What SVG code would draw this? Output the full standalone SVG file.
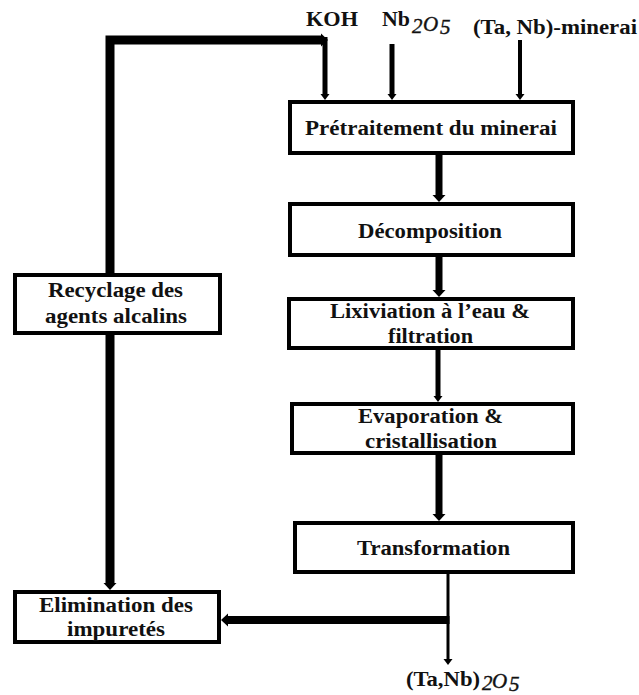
<svg xmlns="http://www.w3.org/2000/svg" width="639" height="695" viewBox="0 0 639 695">
<style>
.box{fill:#fff;stroke:#000;stroke-width:4}
.t{font-family:"Liberation Serif","Times New Roman",serif;font-weight:bold;font-size:20px;fill:#111;text-anchor:middle}
.tl{font-family:"Liberation Serif","Times New Roman",serif;font-weight:bold;font-size:20px;fill:#111}
.m{font-family:"Liberation Serif","Times New Roman",serif;font-style:italic;font-size:21px;fill:#111;stroke:#111;stroke-width:0.4}
.c{fill:none;stroke:#000;stroke-linejoin:miter}
</style>
<defs>
<marker id="ah" markerUnits="userSpaceOnUse" markerWidth="8" markerHeight="14" refX="0" refY="7" orient="auto"><path d="M0,0.5 L7,7 L0,13.5 Z" fill="#000"/></marker>
<marker id="ahs" markerUnits="userSpaceOnUse" markerWidth="7" markerHeight="10" refX="0" refY="5" orient="auto"><path d="M0,0.5 L6,5 L0,9.5 Z" fill="#000"/></marker>
</defs>
<g id="connectors">
<path class="c" d="M110,275 V40 H321" stroke-width="9" marker-end="url(#ah)"/>
<path class="c" d="M325,37 V94" stroke-width="5" marker-end="url(#ahs)"/>
<path class="c" d="M392,44 V94" stroke-width="5" marker-end="url(#ahs)"/>
<path class="c" d="M520,40 V94" stroke-width="4" marker-end="url(#ahs)"/>
<path class="c" d="M439,155 V195" stroke-width="7" marker-end="url(#ah)"/>
<path class="c" d="M439,257 V290" stroke-width="7" marker-end="url(#ah)"/>
<path class="c" d="M438,350 V396" stroke-width="5" marker-end="url(#ahs)"/>
<path class="c" d="M439,455 V514" stroke-width="7" marker-end="url(#ah)"/>
<path class="c" d="M448,574 V659" stroke-width="3" marker-end="url(#ahs)"/>
<path class="c" d="M449.5,620 H228" stroke-width="8" marker-end="url(#ah)"/>
<path class="c" d="M110,335 V583" stroke-width="9" marker-end="url(#ah)"/>
</g>
<g id="koh"><text class="t" x="332" y="26" textLength="52" lengthAdjust="spacingAndGlyphs">KOH</text></g>
<g id="nb2o5">
<text class="tl" x="382" y="26" textLength="28" lengthAdjust="spacingAndGlyphs">Nb</text>
<text class="m" x="412" y="33">2</text>
<text class="m" x="423" y="31">O</text>
<text class="m" x="440" y="34">5</text>
</g>
<g id="minerai"><text class="t" x="555" y="34" textLength="164" lengthAdjust="spacingAndGlyphs">(Ta, Nb)-minerai</text></g>
<g id="pretraitement">
<rect class="box" x="290" y="102" width="283" height="51"/>
<text class="t" x="431" y="135" textLength="252" lengthAdjust="spacingAndGlyphs">Prétraitement du minerai</text>
</g>
<g id="decomposition">
<rect class="box" x="290" y="204" width="283" height="51"/>
<text class="t" x="430" y="238" textLength="144" lengthAdjust="spacingAndGlyphs">Décomposition</text>
</g>
<g id="lixiviation">
<rect class="box" x="289" y="299" width="284" height="49"/>
<text class="t" x="430" y="318" textLength="200" lengthAdjust="spacingAndGlyphs">Lixiviation à l’eau &amp;</text>
<text class="t" x="430.5" y="343" textLength="85" lengthAdjust="spacingAndGlyphs">filtration</text>
</g>
<g id="evaporation">
<rect class="box" x="292" y="404" width="281" height="49"/>
<text class="t" x="430.5" y="423" textLength="145" lengthAdjust="spacingAndGlyphs">Evaporation &amp;</text>
<text class="t" x="431" y="448" textLength="132" lengthAdjust="spacingAndGlyphs">cristallisation</text>
</g>
<g id="transformation">
<rect class="box" x="295" y="523" width="278" height="49"/>
<text class="t" x="433.5" y="555" textLength="153" lengthAdjust="spacingAndGlyphs">Transformation</text>
</g>
<g id="recyclage">
<rect class="box" x="15" y="275" width="205" height="58"/>
<text class="t" x="115.5" y="297" textLength="135" lengthAdjust="spacingAndGlyphs">Recyclage des</text>
<text class="t" x="116" y="323" textLength="142" lengthAdjust="spacingAndGlyphs">agents alcalins</text>
</g>
<g id="elimination">
<rect class="box" x="15" y="592" width="204" height="50"/>
<text class="t" x="116" y="612" textLength="154" lengthAdjust="spacingAndGlyphs">Elimination des</text>
<text class="t" x="116" y="636" textLength="98" lengthAdjust="spacingAndGlyphs">impuretés</text>
</g>
<g id="product">
<text class="tl" x="406" y="686" textLength="74" lengthAdjust="spacingAndGlyphs">(Ta,Nb)</text>
<text class="m" x="482" y="690">2</text>
<text class="m" x="492" y="688">O</text>
<text class="m" x="509" y="691">5</text>
</g>
</svg>
